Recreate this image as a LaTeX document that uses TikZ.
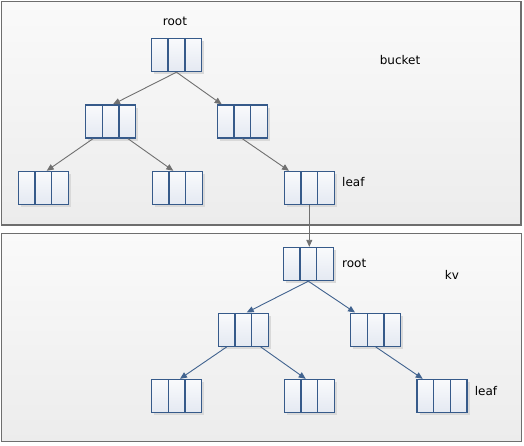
\documentclass[tikz,border=0pt]{standalone}
\usepackage{fontspec}
\setmainfont{DejaVu Sans}
\usepackage{tikz}
\usetikzlibrary{arrows.meta, shadows, calc, positioning}

\definecolor{boxblue}{HTML}{365A8A}
\definecolor{celltop}{HTML}{F9FAFC}
\definecolor{cellbot}{HTML}{E4E9F2}
\definecolor{panelgray}{HTML}{6E6E6E}
\definecolor{paneltop}{HTML}{FAFAFA}
\definecolor{panelbot}{HTML}{ECECEC}
\definecolor{graylink}{HTML}{707070}
\definecolor{bluelink}{HTML}{41638F}

\begin{document}
\begin{tikzpicture}[x=1pt, y=-1pt, font=\fontsize{12}{14}\selectfont]

\tikzstyle{panel}=[draw=panelgray, line width=1.4pt, top color=paneltop, bottom color=panelbot]
\tikzstyle{cellbox}=[draw=boxblue, line width=1.4pt, minimum width=50pt, minimum height=33pt, inner sep=0pt,
  top color=celltop, bottom color=cellbot,
  drop shadow={shadow xshift=2.5pt, shadow yshift=-2.5pt, fill=black!15, opacity=1},
  path picture={
    \draw[boxblue, line width=1.4pt] ([xshift=-8.33pt]path picture bounding box.north) -- ([xshift=-8.33pt]path picture bounding box.south);
    \draw[boxblue, line width=1.4pt] ([xshift=8.33pt]path picture bounding box.north) -- ([xshift=8.33pt]path picture bounding box.south);
  }]
\tikzstyle{textlabel}=[inner sep=1pt, text=black]
\tikzstyle{grayarrow}=[draw=graylink, line width=0.9pt, -{Triangle[length=7pt, width=6pt]}]
\tikzstyle{bluearrow}=[draw=bluelink, line width=0.9pt, -{Triangle[length=7pt, width=6pt]}]

\useasboundingbox (0,0) rectangle (524,445);

% bucket panel
\draw[panel] (1.5,1.5) rectangle (521,225);

\node (broot) [cellbox] at (176.5,55) {};
\node (bl) [cellbox] at (110.7,121.5) {};
\node (br) [cellbox] at (242.3,121.5) {};
\node (bll) [cellbox] at (43.3,188) {};
\node (blr) [cellbox] at (177.3,188) {};
\node (bleaf) [cellbox] at (309.3,188) {};

\node (brootlabel) [textlabel] at (175,21) {root};
\node (bleaflabel) [textlabel, right=6pt of bleaf, yshift=6pt] {leaf};
\node (bucketlabel) [textlabel] at (400,60) {bucket};

\draw [grayarrow] (broot.south) -- ([xshift=2.3pt]bl.north);
\draw [grayarrow] (broot.south) -- ([xshift=-20.6pt]br.north);
\draw [grayarrow] ([xshift=-17.7pt]bl.south) -- ([xshift=3.4pt]bll.north);
\draw [grayarrow] ([xshift=17.3pt]bl.south) -- ([xshift=-4pt]blr.north);
\draw [grayarrow] (br.south) -- ([xshift=-20.3pt]bleaf.north);

% kv panel
\draw[panel] (1.5,233.5) rectangle (521.5,441.5);

\node (kroot) [cellbox] at (308.3,264) {};
\node (kl) [cellbox] at (243.3,329.7) {};
\node (kr) [cellbox] at (375.7,329.7) {};
\node (kll) [cellbox] at (176.7,396) {};
\node (klr) [cellbox] at (309.3,396) {};
\node (kleaf) [cellbox] at (442,396) {};

\node (krootlabel) [textlabel, right=7pt of kroot, yshift=1pt] {root};
\node (kleaflabel) [textlabel, right=6pt of kleaf, yshift=5pt] {leaf};
\node (kvlabel) [textlabel] at (452,275) {kv};

\draw [bluearrow] (kroot.south) -- ([xshift=3.4pt]kl.north);
\draw [bluearrow] (kroot.south) -- ([xshift=-20.7pt]kr.north);
\draw [bluearrow] ([xshift=-16.6pt]kl.south) -- ([xshift=3.3pt]kll.north);
\draw [bluearrow] ([xshift=17.4pt]kl.south) -- ([xshift=-3.6pt]klr.north);
\draw [bluearrow] (kr.south) -- ([xshift=-19.3pt]kleaf.north);

% bucket leaf points to kv root
\draw [grayarrow] (bleaf.south) -- (bleaf.south |- kroot.north);

\end{tikzpicture}
\end{document}
